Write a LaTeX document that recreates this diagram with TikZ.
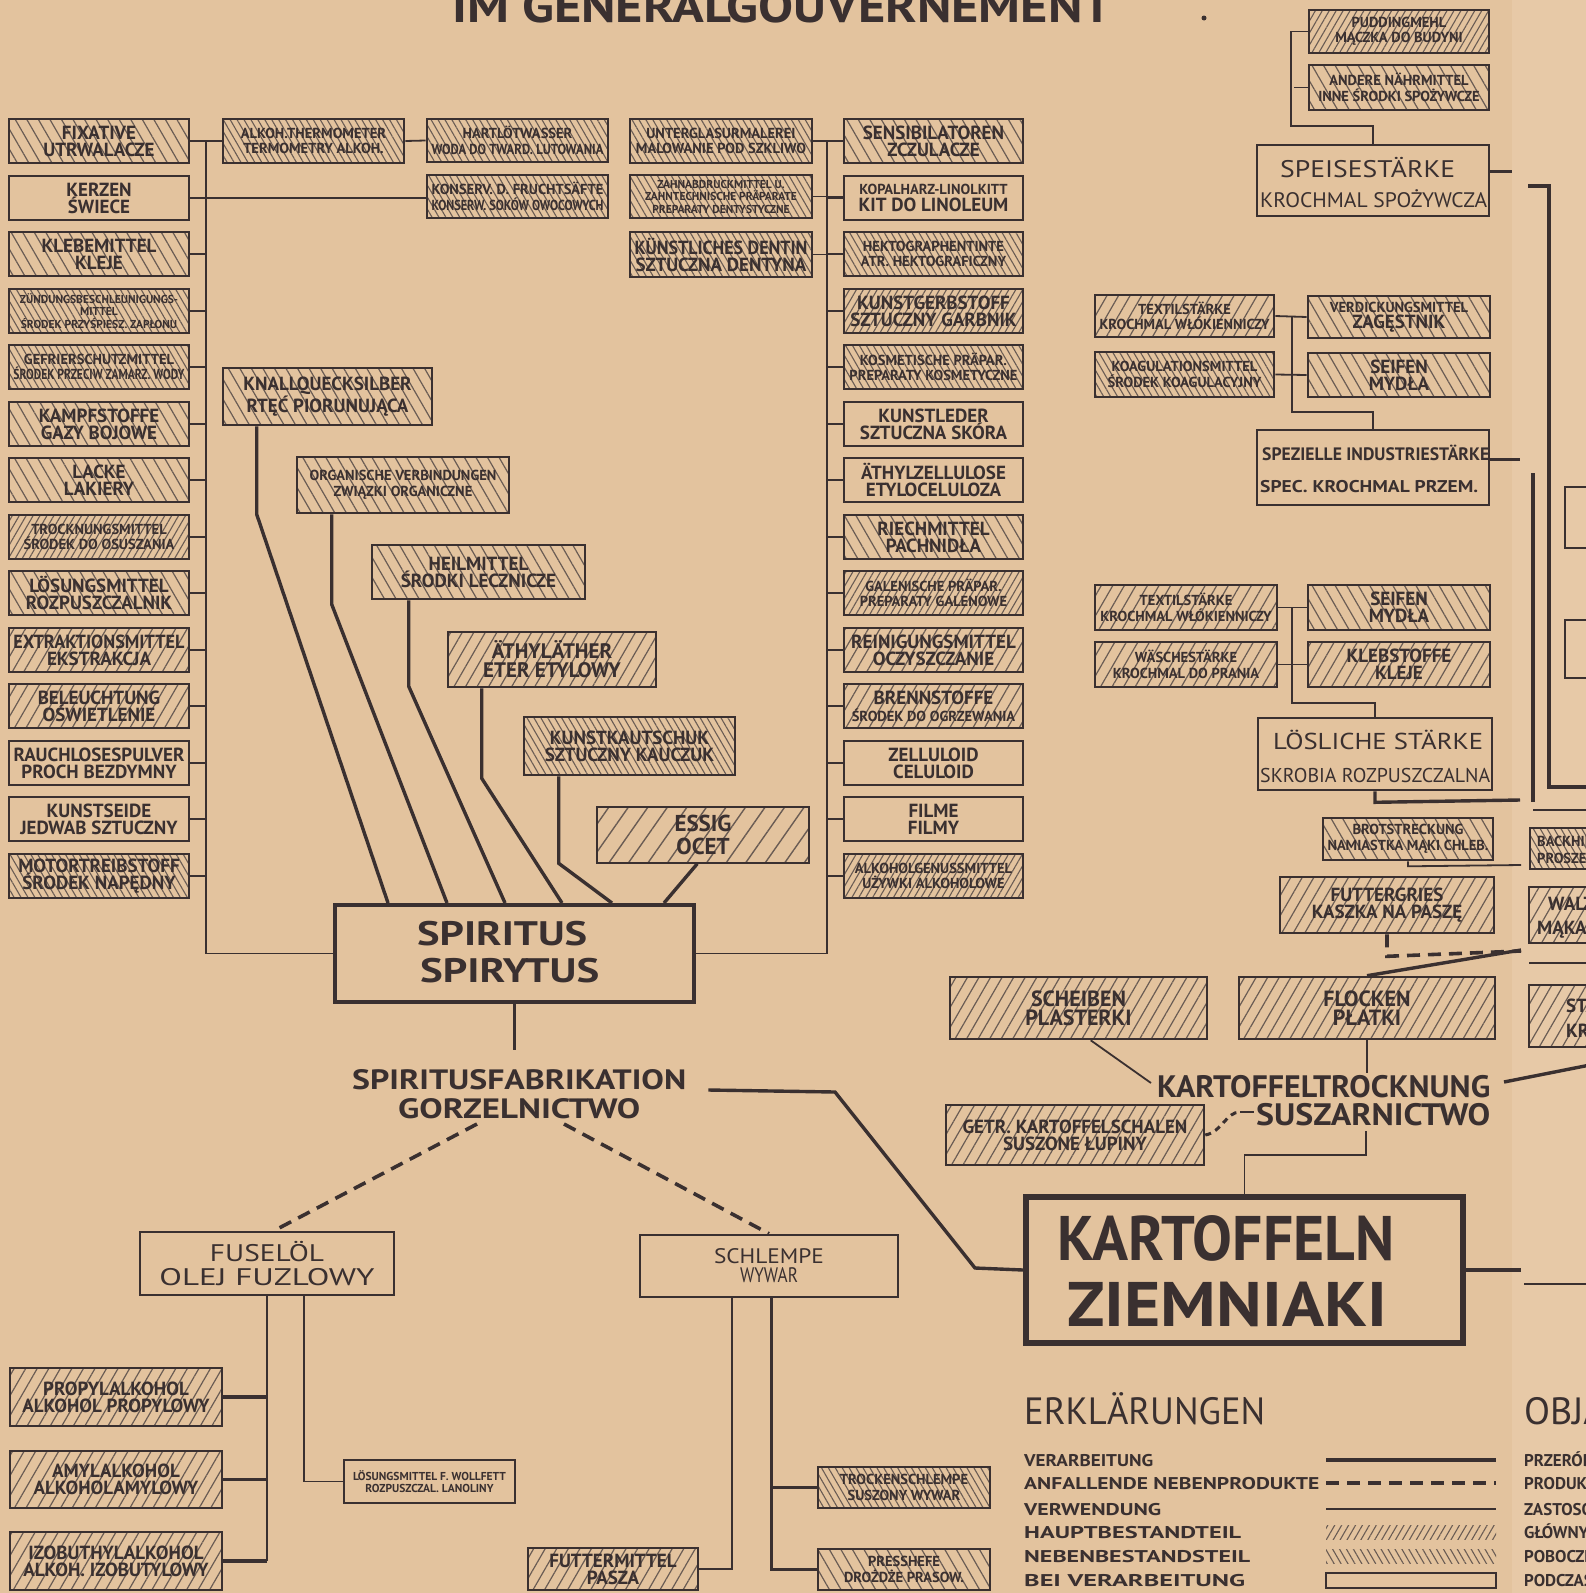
\documentclass[tikz,border=0pt]{standalone}
\usepackage{fontspec}
\setmainfont{PT Sans}
\usepackage{graphicx}
\usetikzlibrary{patterns.meta,calc}
\definecolor{paper}{HTML}{E3C39E}
\definecolor{paperR}{HTML}{E7C9A7}
\definecolor{ink}{HTML}{3A3030}
\definecolor{hatch}{HTML}{6A5C54}
\newlength\fitlen
\newsavebox\fitsbox
\newcommand\fitl[1]{\sbox\fitsbox{#1}\ifdim\wd\fitsbox>\fitlen\relax\resizebox{\fitlen}{\height}{\usebox\fitsbox}\else\usebox\fitsbox\fi}
\newcommand\fitw[2]{\resizebox{#1}{\height}{#2}}
\newcommand\fbA{\bfseries\fontsize{19}{17}\selectfont}
\newcommand\fbB{\bfseries\fontsize{14.5}{15.5}\selectfont}
\newcommand\fbC{\bfseries\fontsize{11.5}{12.5}\selectfont}
\newcommand\bx[7][]{%
  \pgfmathsetmacro\bxw{#5-#3}\pgfmathsetmacro\bxh{#6-#4}%
  \setlength\fitlen{\bxw pt}\addtolength\fitlen{-9pt}%
  \node[box,#1,minimum width=\bxw pt,minimum height=\bxh pt] (#2) at ({(#3+#5)/2},{(#4+#6)/2}) {#7};}
\tikzset{
 box/.style={draw=ink,line width=2.6pt,inner sep=0pt,align=center,text=ink,font=\fbA},
 haupt/.style={pattern={Lines[angle=60,distance=10pt,line width=1.2pt]},pattern color=hatch},
 neben/.style={pattern={Lines[angle=-60,distance=10pt,line width=1.2pt]},pattern color=hatch},
 hauptd/.style={pattern={Lines[angle=60,distance=6pt,line width=1.1pt]},pattern color=hatch},
 nebend/.style={pattern={Lines[angle=-60,distance=6pt,line width=1.1pt]},pattern color=hatch},
 haupts/.style={pattern={Lines[angle=55,distance=16pt,line width=1.4pt]},pattern color=hatch},
 txt/.style={inner sep=0pt,text=ink,anchor=base west},
 cnx/.style={draw=ink,line width=1.8pt},
 prc/.style={draw=ink,line width=3.4pt},
 dsh/.style={draw=ink,line width=3.6pt,dash pattern=on 13pt off 8pt},
}
\begin{document}
\begin{tikzpicture}[x=1pt,y=-1pt]
\useasboundingbox (0,0) rectangle (1586,1593);
\clip (0,0) rectangle (1586,1593);
\fill[paper] (0,0) rectangle (1586,1593);
\fill[paperR] (1512,0) rectangle (1586,1593);

% title
\node[txt,font=\bfseries\fontsize{46}{46}\selectfont] (title) at (452,22) {\fitw{660pt}{IM GENERALGOUVERNEMENT}};
\fill[ink] (1204,18) circle (2.5);

\coordinate (tl) at (206,0);
\coordinate (tr) at (827,0);

% left column
\bx[neben]{L0}{9}{119}{189}{163}{\fitl{FIXATIVE}\\\fitl{UTRWALACZE}}
\bx{L1}{9}{176}{189}{220}{\fitl{KERZEN}\\\fitl{ŚWIECE}}
\bx[neben]{L2}{9}{232}{189}{276}{\fitl{KLEBEMITTEL}\\\fitl{KLEJE}}
\bx[nebend,font=\fbC]{L3}{9}{289}{189}{333}{\fitl{ZÜNDUNGSBESCHLEUNIGUNGS-}\\\fitl{MITTEL}\\\fitl{ŚRODEK PRZYŚPIESZ. ZAPŁONU}}
\bx[nebend,font=\fbB]{L4}{9}{345}{189}{389}{\fitl{GEFRIERSCHUTZMITTEL}\\\fitl{ŚRODEK PRZECIW ZAMARZ. WODY}}
\bx[neben]{L5}{9}{402}{189}{446}{\fitl{KAMPFSTOFFE}\\\fitl{GAZY BOJOWE}}
\bx[neben]{L6}{9}{458}{189}{502}{\fitl{LACKE}\\\fitl{LAKIERY}}
\bx[hauptd,font=\fbB]{L7}{9}{515}{189}{559}{\fitl{TROCKNUNGSMITTEL}\\\fitl{ŚRODEK DO OSUSZANIA}}
\bx[neben]{L8}{9}{571}{189}{615}{\fitl{LÖSUNGSMITTEL}\\\fitl{ROZPUSZCZALNIK}}
\bx[haupt]{L9}{9}{628}{189}{672}{\fitl{EXTRAKTIONSMITTEL}\\\fitl{EKSTRAKCJA}}
\bx[haupt]{L10}{9}{684}{189}{728}{\fitl{BELEUCHTUNG}\\\fitl{OŚWIETLENIE}}
\bx{L11}{9}{741}{189}{785}{\fitl{RAUCHLOSESPULVER}\\\fitl{PROCH BEZDYMNY}}
\bx{L12}{9}{797}{189}{841}{\fitl{KUNSTSEIDE}\\\fitl{JEDWAB SZTUCZNY}}
\bx[nebend]{L13}{9}{854}{189}{898}{\fitl{MOTORTREIBSTOFF}\\\fitl{ŚRODEK NAPĘDNY}}

% middle top boxes
\bx[nebend,font=\fbB]{M1}{223}{119}{404}{163}{\fitl{ALKOH.THERMOMETER}\\\fitl{TERMOMETRY ALKOH.}}
\bx[nebend,font=\fbB]{M2}{427}{119}{608}{162}{\fitl{HARTLÖTWASSER}\\\fitl{WODA DO TWARD. LUTOWANIA}}
\bx[nebend,font=\fbB]{M3}{427}{175}{608}{218}{\fitl{KONSERV. D. FRUCHTSÄFTE}\\\fitl{KONSERW. SOKÓW OWOCOWYCH}}
\bx[nebend,font=\fbB]{M4}{630}{119}{812}{163}{\fitl{UNTERGLASURMALEREI}\\\fitl{MALOWANIE POD SZKLIWO}}
\bx[nebend,font=\fbC]{M5}{630}{175}{812}{218}{\fitl{ZAHNABDRUCKMITTEL U.}\\\fitl{ZAHNTECHNISCHE PRÄPARATE}\\\fitl{PREPARATY DENTYSTYCZNE}}
\bx[nebend]{M6}{630}{232}{812}{277}{\fitl{KÜNSTLICHES DENTIN}\\\fitl{SZTUCZNA DENTYNA}}

% right column
\bx[neben]{R0}{844}{119}{1023}{163}{\fitl{SENSIBILATOREN}\\\fitl{ZCZULACZE}}
\bx{R1}{844}{176}{1023}{220}{{\fbB\fitl{KOPALHARZ-LINOLKITT}}\\\fitl{KIT DO LINOLEUM}}
\bx[nebend,font=\fbB]{R2}{844}{232}{1023}{276}{\fitl{HEKTOGRAPHENTINTE}\\\fitl{ATR. HEKTOGRAFICZNY}}
\bx[hauptd]{R3}{844}{289}{1023}{333}{\fitl{KUNSTGERBSTOFF}\\\fitl{SZTUCZNY GARBNIK}}
\bx[nebend,font=\fbB]{R4}{844}{345}{1023}{389}{\fitl{KOSMETISCHE PRÄPAR.}\\\fitl{PREPARATY KOSMETYCZNE}}
\bx{R5}{844}{402}{1023}{446}{\fitl{KUNSTLEDER}\\\fitl{SZTUCZNA SKÓRA}}
\bx{R6}{844}{458}{1023}{502}{\fitl{ÄTHYLZELLULOSE}\\\fitl{ETYLOCELULOZA}}
\bx[neben]{R7}{844}{515}{1023}{559}{\fitl{RIECHMITTEL}\\\fitl{PACHNIDŁA}}
\bx[hauptd,font=\fbB]{R8}{844}{571}{1023}{615}{\fitl{GALENISCHE PRÄPAR.}\\\fitl{PREPARATY GALENOWE}}
\bx[haupt]{R9}{844}{628}{1023}{672}{\fitl{REINIGUNGSMITTEL}\\\fitl{OCZYSZCZANIE}}
\bx[haupt]{R10}{844}{684}{1023}{728}{\fitl{BRENNSTOFFE}\\{\fbB\fitl{ŚRODEK DO OGRZEWANIA}}}
\bx{R11}{844}{741}{1023}{785}{\fitl{ZELLULOID}\\\fitl{CELULOID}}
\bx{R12}{844}{797}{1023}{841}{\fitl{FILME}\\\fitl{FILMY}}
\bx[hauptd,font=\fbB]{R13}{844}{854}{1023}{898}{\fitl{ALKOHOLGENUSSMITTEL}\\\fitl{UŻYWKI ALKOHOLOWE}}

% products into spiritus
\bx[neben]{kn}{223}{368}{432}{425}{\fitl{KNALLQUECKSILBER}\\\fitl{RTĘĆ PIORUNUJĄCA}}
\bx[neben,font=\fbB]{org}{297}{457}{509}{513}{\fitl{ORGANISCHE VERBINDUNGEN}\\\fitl{ZWIĄZKI ORGANICZNE}}
\bx[neben]{heil}{372}{545}{585}{599}{\fitl{HEILMITTEL}\\\fitl{ŚRODKI LECZNICZE}}
\bx[haupt,font=\bfseries\fontsize{21}{19}\selectfont]{ae}{448}{632}{656}{687}{\fitl{ÄTHYLÄTHER}\\\fitl{ETER ETYLOWY}}
\bx[nebend]{kk}{524}{717}{735}{775}{\fitl{KUNSTKAUTSCHUK}\\\fitl{SZTUCZNY KAUCZUK}}
\bx[haupts,font=\bfseries\fontsize{23}{23}\selectfont]{es}{597}{807}{809}{863}{ESSIG\\OCET}

\bx[line width=4pt]{sp}{335}{905}{694}{1002}{}
\node[txt,font=\bfseries\fontsize{34}{34}\selectfont] (spt1) at (417,945) {\fitw{170pt}{SPIRITUS}};
\node[txt,font=\bfseries\fontsize{34}{34}\selectfont] (spt2) at (420,982) {\fitw{179pt}{SPIRYTUS}};

% left/right trunks
\draw[cnx] (L0.east) -- (M1.west);
\draw[cnx] (M1.east) -- (M2.west);
\draw[cnx] (L1.east) -- (L1.east -| M3.west);
\draw[cnx] (L0.east -| tl) |- (sp.west);
\foreach \i in {2,...,13} \draw[cnx] (L\i.east) -- (L\i.east -| tl);
\draw[cnx] (M4.east) -- (R0.west);
\draw[cnx] (M5.east) -- (M5.east -| R1.west);
\draw[cnx] (M6.east) -- (M6.east -| R2.west);
\draw[cnx] (M4.east -| tr) |- (sp.east);
\foreach \i in {1,...,13} \draw[cnx] (R\i.west) -- (R\i.west -| tr);

\draw[prc] ($(kn.south west)+(35,0)$) -- ++(0,88) -- ($(sp.north west)+(55,0)$);
\draw[prc] ($(org.south west)+(36,0)$) -- ++(0,90) -- ($(sp.north west)+(114,0)$);
\draw[prc] ($(heil.south west)+(38,0)$) -- ++(0,86) -- ($(sp.north west)+(172,0)$);
\draw[prc] ($(ae.south west)+(35,0)$) -- ++(0,90) -- ($(sp.north west)+(229,0)$);
\draw[prc] ($(kk.south west)+(36,0)$) -- ++(0,87) -- ($(sp.north west)+(279,0)$);
\draw[prc] ($(es.south west)+(101,0)$) -- ($(sp.north west)+(331,0)$);

% spiritusfabrikation
\node[txt,font=\bfseries\fontsize{28}{28}\selectfont] (sfa) at (352,1089) {\fitw{334pt}{SPIRITUSFABRIKATION}};
\node[txt,font=\bfseries\fontsize{28}{28}\selectfont] (sfb) at (398,1118) {\fitw{242pt}{GORZELNICTWO}};
\draw[prc] (sp.south) -- ++(0,46);

% bottom left
\bx[font=\fontsize{24}{24}\selectfont]{fu}{140}{1232}{394}{1295}{\fitw{114pt}{FUSELÖL}\\\fitw{215pt}{OLEJ FUZLOWY}}
\bx[font=\fontsize{21}{19}\selectfont]{sch}{640}{1235}{898}{1297}{\fitw{110pt}{SCHLEMPE}\\\fitw{58pt}{WYWAR}}
\coordinate (d1) at (477,1124);
\coordinate (d2) at (564,1124);
\draw[dsh] (d1) -- ($(fu.north)+(7,0)$);
\draw[dsh] (d2) -- (sch.north);
\bx[haupt]{prop}{10}{1368}{222}{1426}{\fitl{PROPYLALKOHOL}\\\fitl{ALKOHOL PROPYLOWY}}
\bx[haupt]{amyl}{10}{1451}{222}{1508}{\fitl{AMYLALKOHOL}\\\fitl{ALKOHOLAMYLOWY}}
\bx[haupt]{izo}{10}{1532}{222}{1590}{\fitl{IZOBUTHYLALKOHOL}\\\fitl{ALKOH. IZOBUTYLOWY}}
\bx[font=\fbC]{ls}{344}{1460}{515}{1503}{\fitl{LÖSUNGSMITTEL F. WOLLFETT}\\\fitl{ROZPUSZCZAL. LANOLINY}}
\bx[nebend,font=\fbB]{ts}{818}{1467}{990}{1508}{\fitl{TROCKENSCHLEMPE}\\\fitl{SUSZONY WYWAR}}
\bx[haupt]{fm}{528}{1548}{698}{1590}{\fitl{FUTTERMITTEL}\\\fitl{PASZA}}
\bx[neben,font=\fbB]{ph}{818}{1549}{990}{1590}{\fitl{PRESSHEFE}\\\fitl{DROŻDŻE PRASOW.}}
\coordinate (fv) at ($(fu.south west)+(128,0)$);
\coordinate (fv2) at ($(fu.south west)+(165,0)$);
\draw[cnx] (fv) -- (fv |- izo.east);
\foreach \n in {prop,amyl,izo} \draw[prc] (\n.east) -- (\n.east -| fv);
\draw[cnx] (fv2) |- (ls.west);
\coordinate (sv1) at ($(sch.south west)+(93,0)$);
\coordinate (sv2) at ($(sch.south west)+(133,0)$);
\draw[cnx] (sv1) |- (fm.east);
\draw[prc] (sv2) |- (ph.west);
\draw[prc] (ts.west) -- (ts.west -| sv2);

% kartoffeln
\bx[line width=6pt]{kt}{1026}{1197}{1463}{1343}{}
\node[txt,font=\bfseries\fontsize{63}{63}\selectfont] (kt1) at (1057,1260) {\fitw{337pt}{KARTOFFELN}};
\node[txt,font=\bfseries\fontsize{63}{63}\selectfont] (kt2) at (1067,1326) {\fitw{320pt}{ZIEMNIAKI}};
\draw[prc] ($(sfa.base east)+(22,1)$) -- (835,1092) -- (975,1268) -- (kt.west);
\draw[prc] (kt.east) -- ++(55,0);
\draw[cnx] (1524,1284) -- (1590,1284);

% right-side upper
\bx[hauptd,font=\fbB]{pud}{1309}{10}{1489}{53}{\fitl{PUDDINGMEHL}\\\fitl{MĄCZKA DO BUDYNI}}
\bx[neben,font=\fbB]{anm}{1309}{65}{1489}{110}{\fitl{ANDERE NÄHRMITTEL}\\\fitl{INNE ŚRODKI SPOŻYWCZE}}
\bx{sps}{1257}{145}{1489}{216}{}
\node[txt,font=\fontsize{24}{24}\selectfont] (sps1) at (1280,177) {\fitw{175pt}{SPEISESTÄRKE}};
\node[txt,font=\fontsize{21}{21}\selectfont] (sps2) at (1260,207) {\fitw{227pt}{KROCHMAL SPOŻYWCZA}};
\draw[cnx] (pud.west) -- ++(-17,0) |- ($(sps.north)+(0,-18)$) -- (sps.north);
\draw[cnx] (anm.west) -- ++(-14,0);
\draw[prc] (sps.east) ++(0,-9) -- ++(22,0);

\bx[haupt,font=\fbB]{tx1}{1095}{295}{1274}{337}{\fitl{TEXTILSTÄRKE}\\\fitl{KROCHMAL WŁÓKIENNICZY}}
\bx[nebend,font=\fbB]{ko}{1095}{352}{1274}{397}{\fitl{KOAGULATIONSMITTEL}\\\fitl{ŚRODEK KOAGULACYJNY}}
\bx[neben,font=\fbB]{vd}{1308}{296}{1490}{338}{\fitl{VERDICKUNGSMITTEL}\\{\fbA\fitl{ZAGĘSTNIK}}}
\bx[neben]{sf1}{1308}{353}{1490}{397}{\fitl{SEIFEN}\\\fitl{MYDŁA}}
\bx{spz}{1257}{430}{1489}{505}{}
\node[txt,font=\bfseries\fontsize{18}{18}\selectfont] (spz1) at (1262,460) {\fitw{227pt}{SPEZIELLE INDUSTRIESTÄRKE}};
\node[txt,font=\bfseries\fontsize{17}{17}\selectfont] (spz2) at (1260,492) {\fitw{218pt}{SPEC. KROCHMAL PRZEM.}};
\coordinate (g1) at (1292,0);
\draw[cnx] (tx1.east) -- (vd.west);
\draw[cnx] (ko.east) -- (sf1.west);
\draw[cnx] (tx1.east -| g1) |- ($(spz.north)+(0,-17)$) -- (spz.north);
\draw[prc] (spz.east) ++(0,-8) -- ++(30,0);

\bx[haupt,font=\fbB]{tx2}{1095}{585}{1277}{630}{\fitl{TEXTILSTÄRKE}\\\fitl{KROCHMAL WŁÓKIENNICZY}}
\bx[haupt,font=\fbB]{ws}{1095}{642}{1277}{687}{\fitl{WÄSCHESTÄRKE}\\\fitl{KROCHMAL DO PRANIA}}
\bx[neben]{sf2}{1308}{585}{1490}{630}{\fitl{SEIFEN}\\\fitl{MYDŁA}}
\bx[haupt]{kl}{1308}{642}{1490}{687}{\fitl{KLEBSTOFFE}\\\fitl{KLEJE}}
\bx{lsl}{1258}{718}{1492}{790}{}
\node[txt,font=\fontsize{23}{23}\selectfont] (lsl1) at (1273,749) {\fitw{210pt}{LÖSLICHE STÄRKE}};
\node[txt,font=\fontsize{20}{20}\selectfont] (lsl2) at (1260,782) {\fitw{230pt}{SKROBIA ROZPUSZCZALNA}};
\draw[cnx] (tx2.east) -- (sf2.west);
\draw[cnx] (ws.east) -- (kl.west);
\draw[cnx] (tx2.east -| g1) |- ($(lsl.north)+(0,-14)$) -- (lsl.north);
\draw[prc] (lsl.south) -- ++(0,11) -- (1520,800);

\bx[neben,font=\fbB]{brot}{1323}{818}{1493}{860}{\fitl{BROTSTRECKUNG}\\\fitl{NAMIASTKA MĄKI CHLEB.}}
\draw[cnx] (brot.south) -- ++(0,5) -- (1521,865);
\bx[haupt]{fg}{1280}{877}{1494}{933}{\fitl{FUTTERGRIES}\\\fitl{KASZKA NA PASZĘ}}
\draw[dsh] (fg.south) -- ++(0,22) -- (1521,951);

% right strip
\draw[prc] (1528,186) -- (1549,186) -- (1549,787) -- (1590,787);
\draw[prc] (1533,473) -- (1533,802);
\draw[cnx] (1533,810) -- (1590,810);
\bx{rb1}{1565}{487}{1610}{548}{}
\bx{rb2}{1565}{620}{1610}{678}{}
\bx[nebend]{rb3}{1530}{828}{1640}{869}{}
\node[txt,font=\fbB] (rb3a) at (1537,846) {BACKHILFSMITTEL};
\node[txt,font=\fbB] (rb3b) at (1537,863) {PROSZEK DO PIECZ.};
\bx[haupt]{rb4}{1529}{887}{1640}{943}{}
\node[txt,font=\fbA] (rb4a) at (1548,910) {WALZMEHL};
\node[txt,font=\fbA] (rb4b) at (1537,934) {MĄKA};
\draw[cnx] (1529,963) -- (1590,963);
\bx[haupt]{rb5}{1529}{985}{1640}{1047}{}
\node[txt,font=\fbA] (rb5a) at (1566,1012) {STÄRKE};
\node[txt,font=\fbA] (rb5b) at (1566,1037) {KROCHMAL};

% kartoffeltrocknung
\bx[haupt,font=\bfseries\fontsize{22}{19}\selectfont]{sb}{950}{977}{1207}{1039}{\fitl{SCHEIBEN}\\\fitl{PLASTERKI}}
\bx[haupt,font=\bfseries\fontsize{22}{19}\selectfont]{fl}{1239}{977}{1495}{1039}{\fitl{FLOCKEN}\\\fitl{PŁATKI}}
\bx[haupt]{gk}{946}{1105}{1204}{1165}{\fitl{GETR. KARTOFFELSCHALEN}\\\fitl{SUSZONE ŁUPINY}}
\node[txt,font=\bfseries\fontsize{31}{31}\selectfont] (ktr) at (1157,1097) {\fitw{333pt}{KARTOFFELTROCKNUNG}};
\node[txt,font=\bfseries\fontsize{31}{31}\selectfont] (susz) at (1256,1125) {\fitw{234pt}{SUSZARNICTWO}};
\draw[prc] (fl.north) -- (1521,950);
\draw[cnx] (fl.south) -- ++(0,33);
\draw[cnx] ($(sb.south west)+(142,0)$) -- (1151,1083);
\draw[cnx] (1366,1131) -- (1366,1155) -| (kt.north);
\draw[ink,line width=3pt,dash pattern=on 6pt off 5pt] (gk.east) .. controls (1222,1132) and (1226,1112) .. (1240,1112);
\draw[ink,line width=2.5pt] (1240,1112) -- (1254,1112);
\draw[prc] (1504,1082) -- (1590,1065);

% legend
\node[txt,font=\fontsize{38}{38}\selectfont] (erk) at (1024,1424) {\fitw{241pt}{ERKLÄRUNGEN}};
\node[txt,font=\fontsize{38}{38}\selectfont] (obj) at (1524,1424) {OBJAŚNIENIA};
\foreach \y/\de/\w/\pl in {1466/VERARBEITUNG/129/PRZERÓBKA,1489/ANFALLENDE NEBENPRODUKTE/295/PRODUKTY UBOCZNE,1515/VERWENDUNG/137/ZASTOSOWANIE,1538/HAUPTBESTANDTEIL/217/GŁÓWNY SKŁADNIK,1562/NEBENBESTANDSTEIL/226/POBOCZNY SKŁADNIK,1586/BEI VERARBEITUNG/221/PODCZAS PRZERÓBKI}{
  \node[txt,font=\bfseries\fontsize{17}{17}\selectfont] at (1024,\y) {\fitw{\w pt}{\de}};
  \node[txt,font=\bfseries\fontsize{17}{17}\selectfont] at (1524,\y) {\pl};
}
\draw[prc] (1326,1460) -- (1496,1460);
\draw[dsh] (1326,1483) -- (1496,1483);
\draw[cnx] (1326,1509) -- (1496,1509);
\path[hauptd] (1326,1525) rectangle (1496,1539);
\path[nebend] (1326,1549) rectangle (1496,1563);
\draw[ink,line width=2.4pt] (1326,1573) rectangle (1496,1588);
\end{tikzpicture}
\end{document}
